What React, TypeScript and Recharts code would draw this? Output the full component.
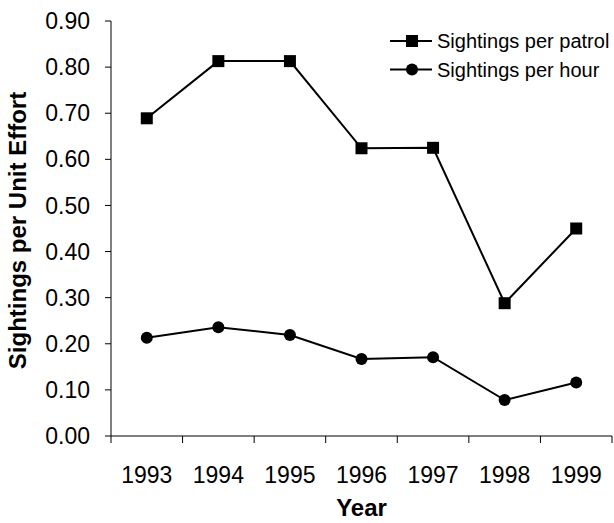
import { LineChart, Line, XAxis, YAxis, Legend } from 'recharts'

const years = ['1993', '1994', '1995', '1996', '1997', '1998', '1999']
const perPatrol = [0.689, 0.813, 0.813, 0.624, 0.625, 0.288, 0.45]
const perHour = [0.213, 0.236, 0.219, 0.167, 0.171, 0.078, 0.116]
const yTicks = [0, 0.1, 0.2, 0.3, 0.4, 0.5, 0.6, 0.7, 0.8, 0.9]
const legendOrder = ['patrol', 'hour']

const data = years.map((year, i) => ({ year, patrol: perPatrol[i], hour: perHour[i] }))

const FONT = '"Liberation Sans", Arial, sans-serif'

function SquareDot(props: any) {
  const { cx, cy, index } = props
  if (cx == null || cy == null) return <g key={`sq-${index}`} />
  return <rect key={`sq-${index}`} x={cx - 6} y={cy - 6} width={12} height={12} fill="#000" />
}

function YearTick(props: any) {
  const { x, y, payload, index, visibleTicksCount, width } = props
  const half = payload?.offset || width / visibleTicksCount / 2
  const last = index === visibleTicksCount - 1
  return (
    <g>
      <line x1={x - half} x2={x - half} y1={y} y2={y + 7} stroke="#000" />
      {last && <line x1={x + half} x2={x + half} y1={y} y2={y + 7} stroke="#000" />}
      <text x={x} y={y + 47} textAnchor="middle" fontSize={23} fill="#000" fontFamily={FONT}>
        {payload.value}
      </text>
    </g>
  )
}

function LegendBox(props: any) {
  const payload = [...(props.payload ?? [])].sort(
    (a: any, b: any) => legendOrder.indexOf(a.dataKey) - legendOrder.indexOf(b.dataKey),
  )
  return (
    <svg width={226} height={62} style={{ display: 'block' }}>
      {payload.map((entry: any, i: number) => {
        const cy = 15 + i * 28.6
        return (
          <g key={entry.value}>
            <line x1={2} x2={44} y1={cy} y2={cy} stroke="#000" strokeWidth={2} />
            {entry.dataKey === 'patrol' ? (
              <rect x={18} y={cy - 6} width={12} height={12} fill="#000" />
            ) : (
              <circle cx={24} cy={cy} r={6} fill="#000" />
            )}
            <text x={49} y={cy + 7} fontSize={20} fill="#000" fontFamily={FONT}>
              {entry.value}
            </text>
          </g>
        )
      })}
    </svg>
  )
}

export default function App() {
  return (
    <div style={{ position: 'absolute', left: 0, top: 0, background: '#fff', fontFamily: FONT }}>
      <LineChart width={614} height={523} data={data} margin={{ top: 21, right: 2, left: 0, bottom: 0 }}>
        <XAxis
          dataKey="year"
          scale="band"
          height={87}
          stroke="#000"
          tickLine={false}
          tickSize={0}
          tickMargin={0}
          tick={<YearTick />}
          interval={0}
          label={{
            content: (p: any) => {
              const vb = p.viewBox
              return (
                <text
                  x={vb.x + vb.width / 2}
                  y={vb.y + 80}
                  textAnchor="middle"
                  fontSize={24}
                  fontWeight="bold"
                  fill="#000"
                  fontFamily={FONT}
                >
                  Year
                </text>
              )
            },
          }}
        />
        <YAxis
          width={111}
          domain={[0, 0.9]}
          ticks={yTicks}
          interval={0}
          tickFormatter={(v: number) => v.toFixed(2)}
          stroke="#000"
          tickSize={6}
          tickMargin={15}
          tick={{ fontSize: 23, fill: '#000', fontFamily: FONT }}
          label={{
            content: (p: any) => {
              const vb = p.viewBox
              const cx = 17
              const cy = vb.y + vb.height / 2 + 2
              return (
                <text
                  x={cx}
                  y={cy}
                  transform={`rotate(-90, ${cx}, ${cy})`}
                  textAnchor="middle"
                  dominantBaseline="central"
                  fontSize={24}
                  fontWeight="bold"
                  fill="#000"
                  fontFamily={FONT}
                >
                  Sightings per Unit Effort
                </text>
              )
            },
          }}
        />
        <Legend
          layout="vertical"
          align="center"
          verticalAlign="middle"
          wrapperStyle={{ left: 388, top: 26, width: 226 }}
          content={<LegendBox />}
        />
        <Line
          dataKey="patrol"
          name="Sightings per patrol"
          stroke="#000"
          strokeWidth={2}
          dot={<SquareDot />}
          activeDot={false}
          isAnimationActive={false}
        />
        <Line
          dataKey="hour"
          name="Sightings per hour"
          stroke="#000"
          strokeWidth={2}
          dot={{ r: 6, fill: '#000', stroke: '#000', strokeWidth: 0 }}
          activeDot={false}
          isAnimationActive={false}
        />
      </LineChart>
    </div>
  )
}
